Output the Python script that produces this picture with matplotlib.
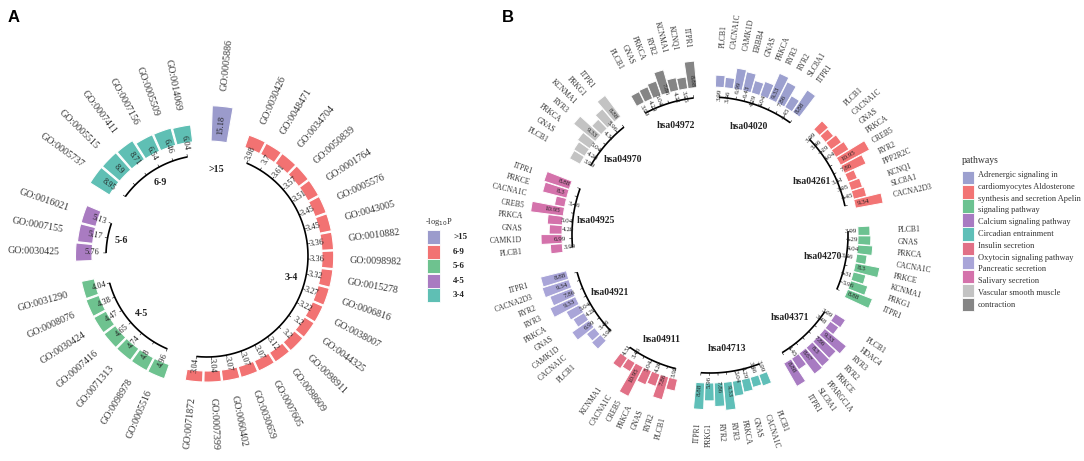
import numpy as np
import matplotlib
matplotlib.use("Agg")
import matplotlib.pyplot as plt
from matplotlib.patches import Rectangle

plt.rcParams['font.family'] = ['Liberation Serif', 'DejaVu Serif']

W, H = 1084, 461

# ---------------- panel A data (clockwise from the top) ----------------
a_groups = ['>15', '3-4', '4-5', '5-6', '6-9']
a_colors = ['#9b9bcc', '#f27272', '#6ec28f', '#a97bc1', '#5fbfb4']

go_gt15 = ['GO:0005886']
val_gt15 = [15.18]
go_34 = ['GO:0030426', 'GO:0048471', 'GO:0034704', 'GO:0050839', 'GO:0001764',
         'GO:0005576', 'GO:0043005', 'GO:0010882', 'GO:0098982', 'GO:0015278',
         'GO:0006816', 'GO:0038007', 'GO:0044325', 'GO:0098911', 'GO:0098609',
         'GO:0007605', 'GO:0030659', 'GO:0060402', 'GO:0007399', 'GO:0071872']
val_34 = [3.98, 3.7, 3.61, 3.57, 3.51, 3.45, 3.45, 3.36, 3.36, 3.32,
          3.27, 3.22, 3.2, 3.2, 3.12, 3.07, 3.07, 3.07, 3.04, 3.04]
go_45 = ['GO:0005516', 'GO:0098978', 'GO:0071313', 'GO:0007416', 'GO:0030424',
         'GO:0008076', 'GO:0031290']
val_45 = [4.96, 4.8, 4.74, 4.65, 4.47, 4.38, 4.04]
go_56 = ['GO:0030425', 'GO:0007155', 'GO:0016021']
val_56 = [5.76, 5.17, 5.13]
go_69 = ['GO:0005737', 'GO:0005515', 'GO:0007411', 'GO:0007156', 'GO:0005509',
         'GO:0014069']
val_69 = [8.95, 8.9, 8.71, 6.54, 6.46, 6.04]

legA_labels = ['>15', '6-9', '5-6', '4-5', '3-4']
legA_colors = ['#9b9bcc', '#f27272', '#6ec28f', '#a97bc1', '#5fbfb4']

# ---------------- panel B data ----------------
gene_names = ['PLCB1', 'CACNA1C', 'GNAS', 'PRKCA', 'ITPR1', 'RYR2', 'RYR3', 'CREB5',
              'PRKCE', 'CAMK1D', 'KCNMA1', 'PRKG1', 'SLC8A1', 'KCNQ1', 'PPP2R2C',
              'CACNA2D3', 'ERBB4', 'HDAC4', 'PPARGC1A']
gene_logp = [3.99, 3.46, 4.29, 5.04, 8.88, 7.86, 9.33, 10.95,
             8.3, 6.99, 4.31, 5.96, 4.45, 3.95, 3.31,
             9.34, 6.43, 3.48, 8.67]

hsa04972 = ['PLCB1', 'GNAS', 'PRKCA', 'RYR2', 'KCNMA1', 'KCNQ1', 'ITPR1']
hsa04020 = ['PLCB1', 'CACNA1C', 'CAMK1D', 'ERBB4', 'GNAS', 'PRKCA', 'RYR3', 'RYR2',
            'SLC8A1', 'ITPR1']
hsa04261 = ['PLCB1', 'CACNA1C', 'GNAS', 'PRKCA', 'CREB5', 'RYR2', 'PPP2R2C', 'KCNQ1',
            'SLC8A1', 'CACNA2D3']
hsa04270 = ['PLCB1', 'GNAS', 'PRKCA', 'CACNA1C', 'PRKCE', 'KCNMA1', 'PRKG1', 'ITPR1']
hsa04371 = ['PLCB1', 'HDAC4', 'RYR3', 'RYR2', 'PRKCE', 'PPARGC1A', 'SLC8A1', 'ITPR1']
hsa04713 = ['PLCB1', 'CACNA1C', 'GNAS', 'PRKCA', 'RYR3', 'RYR2', 'PRKG1', 'ITPR1']
hsa04911 = ['PLCB1', 'RYR2', 'GNAS', 'PRKCA', 'CREB5', 'CACNA1C', 'KCNMA1']
hsa04921 = ['PLCB1', 'CACNA1C', 'CAMK1D', 'GNAS', 'PRKCA', 'RYR3', 'RYR2', 'CACNA2D3',
            'ITPR1']
hsa04925 = ['PLCB1', 'CAMK1D', 'GNAS', 'PRKCA', 'CREB5', 'CACNA1C', 'PRKCE', 'ITPR1']
hsa04970 = ['PLCB1', 'GNAS', 'PRKCA', 'RYR3', 'KCNMA1', 'PRKG1', 'ITPR1']

b_ids = ['hsa04972', 'hsa04020', 'hsa04261', 'hsa04270', 'hsa04371',
         'hsa04713', 'hsa04911', 'hsa04921', 'hsa04925', 'hsa04970']
b_members = [hsa04972, hsa04020, hsa04261, hsa04270, hsa04371,
             hsa04713, hsa04911, hsa04921, hsa04925, hsa04970]
b_colors = ['#858585', '#9ca0cf', '#f27474', '#6cc291', '#a87bc2',
            '#5fbfb8', '#e17086', '#a9a5d8', '#d472ab', '#c3c3c3']

legB_colors = ['#9ca0cf', '#f27474', '#6cc291', '#a87bc2', '#5fbfb8',
               '#e17086', '#a9a5d8', '#d472ab', '#c3c3c3', '#858585']
legB_lines = ['Adrenergic signaling in', 'cardiomyocytes Aldosterone',
              'synthesis and secretion Apelin', 'signaling pathway',
              'Calcium signaling pathway', 'Circadian entrainment', 'Insulin secretion',
              'Oxytocin signaling pathway', 'Pancreatic secretion', 'Salivary secretion',
              'Vascular smooth muscle', 'contraction']

TXT = '#333333'
fig = plt.figure(figsize=(W / 100, H / 100), dpi=100)


def polar_ax(cx, cy, R):
    ax = fig.add_axes([(cx - R) / W, (H - cy - R) / H, 2 * R / W, 2 * R / H],
                      projection='polar')
    ax.set_ylim(0, R)
    ax.set_axis_off()
    return ax


def layout(sizes, start, step, gap):
    out, pos = [], 0
    for n in sizes:
        out.append([start - (pos + i) * step for i in range(n)])
        pos += n + gap
    return out


def radial_text(ax, deg, r, s, outward=True, **kw):
    a = deg % 360
    if 90 < a < 270:
        rot = a - 180
        ha = 'right' if outward else 'left'
    else:
        rot = a if a <= 90 else a - 360
        ha = 'left' if outward else 'right'
    ax.text(np.deg2rad(deg), r, s, rotation=rot, ha=ha, va='center',
            rotation_mode='anchor', **kw)


def group_arc(ax, angs, r, tick=2.5):
    t = np.deg2rad(np.linspace(angs[0], angs[-1], 60))
    ax.plot(t, np.full(t.size, r), color='black', lw=1.2, solid_capstyle='butt')
    for a in angs:
        ax.plot([np.deg2rad(a)] * 2, [r, r + tick], color='black', lw=0.4)


# ---------------- panel A ----------------
axA = polar_ax(207, 256, 230)
a_names = [go_gt15, go_34, go_45, go_56, go_69]
a_vals = [val_gt15, val_34, val_45, val_56, val_69]
stepA = 360 / 42
a_ang = layout([len(v) for v in a_vals], 84, stepA, 1)
r0A, baseA, kA = 115, 5, 2.0
for g, names, vals, angs, col in zip(a_groups, a_names, a_vals, a_ang, a_colors):
    vals = np.array(vals)
    hts = baseA + kA * vals
    axA.bar(np.deg2rad(angs), hts, width=np.deg2rad(stepA * 0.93), bottom=r0A,
            color=col, edgecolor='white', linewidth=0.8)
    for a, n, v, h in zip(angs, names, vals, hts):
        radial_text(axA, a, r0A + h + 16, n, outward=True, fontsize=7.2, color=TXT)
        radial_text(axA, a, r0A + h - 9, f'{v:g}', outward=False, fontsize=6,
                    color='#222222')
    if len(angs) > 1:
        group_arc(axA, angs, 101)
    mid = np.deg2rad((angs[0] + angs[-1]) / 2)
    axA.text(mid, 87, g, ha='center', va='center', fontsize=7.2,
             fontweight='bold', color='#222222')

# legend A
fig.text(425 / W, 1 - 222 / H, '-log$_{10}$P', fontsize=6, color=TXT,
         va='center', ha='left')
for i, (lab, col) in enumerate(zip(legA_labels, legA_colors)):
    y = 230 + i * 14.6
    fig.add_artist(Rectangle((427 / W, 1 - (y + 14) / H), 13 / W, 14 / H,
                             transform=fig.transFigure, facecolor=col,
                             edgecolor='white', lw=0.6))
    fig.text(453 / W, 1 - (y + 7) / H, lab, fontsize=6.5, fontweight='bold',
             color='#222222', va='center', ha='left')

# ---------------- panel B ----------------
axB = polar_ax(710, 235, 230)
stepB = 360 / 102
b_ang = layout([len(m) for m in b_members], 118, stepB, 2)
r0B, kB = 148, 3.0
for pid, mem, angs, col in zip(b_ids, b_members, b_ang, b_colors):
    vals = np.array([gene_logp[gene_names.index(g)] for g in mem])
    hts = kB * vals
    axB.bar(np.deg2rad(angs), hts, width=np.deg2rad(stepB * 0.95), bottom=r0B,
            color=col, edgecolor='white', linewidth=0.7)
    for a, n, v, h in zip(angs, mem, vals, hts):
        radial_text(axB, a, 188, n, outward=True, fontsize=5.5, color=TXT)
        radial_text(axB, a, r0B + h - 13, f'{v:g}', outward=False, fontsize=5,
                    color='#222222')
    group_arc(axB, angs, 138)
    mid = np.deg2rad((angs[0] + angs[-1]) / 2)
    axB.text(mid, 115, pid, ha='center', va='center', fontsize=7,
             fontweight='bold', color='#222222')

# legend B
fig.text(962 / W, 1 - 160 / H, 'pathways', fontsize=7, color=TXT, va='center')
for i, col in enumerate(legB_colors):
    y = 171 + i * 14.1
    fig.add_artist(Rectangle((962 / W, 1 - (y + 13.5) / H), 12 / W, 13.5 / H,
                             transform=fig.transFigure, facecolor=col,
                             edgecolor='white', lw=0.6))
for i, line in enumerate(legB_lines):
    fig.text(978 / W, 1 - (175 + i * 11.8) / H, line, fontsize=6, color=TXT,
             va='center', ha='left')

# panel letters
fig.text(8 / W, 1 - 18 / H, 'A', fontsize=12, fontweight='bold',
         family='Liberation Sans', va='center')
fig.text(502 / W, 1 - 18 / H, 'B', fontsize=12, fontweight='bold',
         family='Liberation Sans', va='center')

fig.savefig('out.png', dpi=100)
